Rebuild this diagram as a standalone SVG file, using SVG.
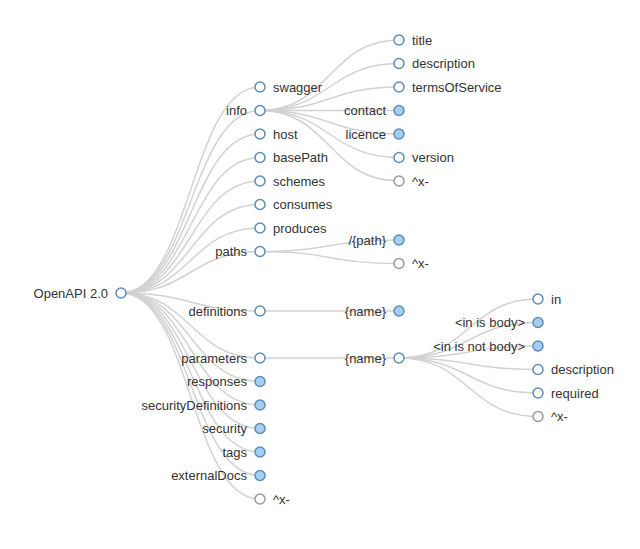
<svg xmlns="http://www.w3.org/2000/svg" width="640" height="549" viewBox="0 0 640 549">
<style>
.link{fill:none;stroke:#d2d2d2;stroke-width:1.5}
circle{stroke:#5b8dbb;stroke-width:1.5;fill:#fff}
.c circle{fill:#a3d0f1}
.x circle{stroke:#9a9a9a;fill:#fff}
text{font-family:"Liberation Sans",Arial,sans-serif;font-size:13px;fill:#333}
.l text{text-anchor:end}
</style>
<rect width="640" height="549" fill="#fff"/>
<g id="links">
<path class="link" d="M121,293C190.5,293 190.5,87 260,87"/>
<path class="link" d="M121,293C190.5,293 190.5,110.5 260,110.5"/>
<path class="link" d="M121,293C190.5,293 190.5,134 260,134"/>
<path class="link" d="M121,293C190.5,293 190.5,157.5 260,157.5"/>
<path class="link" d="M121,293C190.5,293 190.5,181 260,181"/>
<path class="link" d="M121,293C190.5,293 190.5,204.5 260,204.5"/>
<path class="link" d="M121,293C190.5,293 190.5,228 260,228"/>
<path class="link" d="M121,293C190.5,293 190.5,251.5 260,251.5"/>
<path class="link" d="M121,293C190.5,293 190.5,311 260,311"/>
<path class="link" d="M121,293C190.5,293 190.5,358 260,358"/>
<path class="link" d="M121,293C190.5,293 190.5,381.5 260,381.5"/>
<path class="link" d="M121,293C190.5,293 190.5,405 260,405"/>
<path class="link" d="M121,293C190.5,293 190.5,428.5 260,428.5"/>
<path class="link" d="M121,293C190.5,293 190.5,452 260,452"/>
<path class="link" d="M121,293C190.5,293 190.5,475.5 260,475.5"/>
<path class="link" d="M121,293C190.5,293 190.5,499 260,499"/>
<path class="link" d="M260,110.5C329.5,110.5 329.5,40 399,40"/>
<path class="link" d="M260,110.5C329.5,110.5 329.5,63.5 399,63.5"/>
<path class="link" d="M260,110.5C329.5,110.5 329.5,87 399,87"/>
<path class="link" d="M260,110.5C329.5,110.5 329.5,110.5 399,110.5"/>
<path class="link" d="M260,110.5C329.5,110.5 329.5,134 399,134"/>
<path class="link" d="M260,110.5C329.5,110.5 329.5,157.5 399,157.5"/>
<path class="link" d="M260,110.5C329.5,110.5 329.5,181 399,181"/>
<path class="link" d="M260,251.5C329.5,251.5 329.5,240 399,240"/>
<path class="link" d="M260,251.5C329.5,251.5 329.5,263.5 399,263.5"/>
<path class="link" d="M260,311C329.5,311 329.5,311 399,311"/>
<path class="link" d="M260,358C329.5,358 329.5,358 399,358"/>
<path class="link" d="M399,358C468.5,358 468.5,299 538,299"/>
<path class="link" d="M399,358C468.5,358 468.5,322.5 538,322.5"/>
<path class="link" d="M399,358C468.5,358 468.5,346 538,346"/>
<path class="link" d="M399,358C468.5,358 468.5,369.5 538,369.5"/>
<path class="link" d="M399,358C468.5,358 468.5,393 538,393"/>
<path class="link" d="M399,358C468.5,358 468.5,416.5 538,416.5"/>
</g>
<g id="root" class="l" transform="translate(121,293)"><circle r="5"/><text x="-13" dy="4.5">OpenAPI 2.0</text></g>
<g id="swagger" transform="translate(260,87)"><circle r="5"/><text x="13" dy="4.5">swagger</text></g>
<g id="info" class="l" transform="translate(260,110.5)"><circle r="5"/><text x="-13" dy="4.5">info</text></g>
<g id="host" transform="translate(260,134)"><circle r="5"/><text x="13" dy="4.5">host</text></g>
<g id="basePath" transform="translate(260,157.5)"><circle r="5"/><text x="13" dy="4.5">basePath</text></g>
<g id="schemes" transform="translate(260,181)"><circle r="5"/><text x="13" dy="4.5">schemes</text></g>
<g id="consumes" transform="translate(260,204.5)"><circle r="5"/><text x="13" dy="4.5">consumes</text></g>
<g id="produces" transform="translate(260,228)"><circle r="5"/><text x="13" dy="4.5">produces</text></g>
<g id="paths" class="l" transform="translate(260,251.5)"><circle r="5"/><text x="-13" dy="4.5">paths</text></g>
<g id="definitions" class="l" transform="translate(260,311)"><circle r="5"/><text x="-13" dy="4.5">definitions</text></g>
<g id="parameters" class="l" transform="translate(260,358)"><circle r="5"/><text x="-13" dy="4.5">parameters</text></g>
<g id="responses" class="l c" transform="translate(260,381.5)"><circle r="5"/><text x="-13" dy="4.5">responses</text></g>
<g id="securityDefinitions" class="l c" transform="translate(260,405)"><circle r="5"/><text x="-13" dy="4.5">securityDefinitions</text></g>
<g id="security" class="l c" transform="translate(260,428.5)"><circle r="5"/><text x="-13" dy="4.5">security</text></g>
<g id="tags" class="l c" transform="translate(260,452)"><circle r="5"/><text x="-13" dy="4.5">tags</text></g>
<g id="externalDocs" class="l c" transform="translate(260,475.5)"><circle r="5"/><text x="-13" dy="4.5">externalDocs</text></g>
<g id="root-ext" class="x" transform="translate(260,499)"><circle r="5"/><text x="13" dy="4.5">^x-</text></g>
<g id="title" transform="translate(399,40)"><circle r="5"/><text x="13" dy="4.5">title</text></g>
<g id="info-description" transform="translate(399,63.5)"><circle r="5"/><text x="13" dy="4.5">description</text></g>
<g id="termsOfService" transform="translate(399,87)"><circle r="5"/><text x="13" dy="4.5">termsOfService</text></g>
<g id="contact" class="l c" transform="translate(399,110.5)"><circle r="5"/><text x="-13" dy="4.5">contact</text></g>
<g id="licence" class="l c" transform="translate(399,134)"><circle r="5"/><text x="-13" dy="4.5">licence</text></g>
<g id="version" transform="translate(399,157.5)"><circle r="5"/><text x="13" dy="4.5">version</text></g>
<g id="info-ext" class="x" transform="translate(399,181)"><circle r="5"/><text x="13" dy="4.5">^x-</text></g>
<g id="path" class="l c" transform="translate(399,240)"><circle r="5"/><text x="-13" dy="4.5">/{path}</text></g>
<g id="paths-ext" class="x" transform="translate(399,263.5)"><circle r="5"/><text x="13" dy="4.5">^x-</text></g>
<g id="def-name" class="l c" transform="translate(399,311)"><circle r="5"/><text x="-13" dy="4.5">{name}</text></g>
<g id="param-name" class="l" transform="translate(399,358)"><circle r="5"/><text x="-13" dy="4.5">{name}</text></g>
<g id="in" transform="translate(538,299)"><circle r="5"/><text x="13" dy="4.5">in</text></g>
<g id="in-body" class="l c" transform="translate(538,322.5)"><circle r="5"/><text x="-13" dy="4.5">&lt;in is body&gt;</text></g>
<g id="in-not-body" class="l c" transform="translate(538,346)"><circle r="5"/><text x="-13" dy="4.5">&lt;in is not body&gt;</text></g>
<g id="param-description" transform="translate(538,369.5)"><circle r="5"/><text x="13" dy="4.5">description</text></g>
<g id="required" transform="translate(538,393)"><circle r="5"/><text x="13" dy="4.5">required</text></g>
<g id="param-ext" class="x" transform="translate(538,416.5)"><circle r="5"/><text x="13" dy="4.5">^x-</text></g>
</svg>
